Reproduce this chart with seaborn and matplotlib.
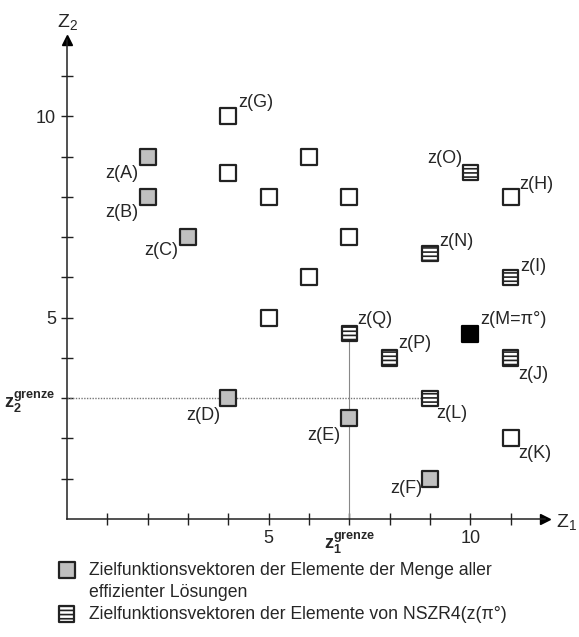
import matplotlib
matplotlib.use("Agg")
import matplotlib.pyplot as plt
import seaborn as sns
import pandas as pd
from matplotlib.lines import Line2D

# efficient solutions (grey)
eff_names = ["A", "B", "C", "D", "E", "F"]
eff_z1 = [2, 2, 3, 4, 7, 9]
eff_z2 = [9, 8, 7, 3, 2.5, 1]

# other vectors (white)
other_names = ["G", "", "", "", "", "", "", "", "H", "K"]
other_z1 = [4, 4, 5, 6, 7, 7, 6, 5, 11, 11]
other_z2 = [10, 8.6, 8, 9, 8, 7, 6, 5, 8, 2]

# NSZR4 elements (hatched)
nszr_names = ["O", "N", "I", "Q", "P", "J", "L"]
nszr_z1 = [10, 9, 11, 7, 8, 11, 9]
nszr_z2 = [8.6, 6.6, 6, 4.6, 4, 4, 3]

# reference point
ref_names = ["M=π°"]
ref_z1 = [10]
ref_z2 = [4.6]

z1_grenze = 7
z2_grenze = 3

legend_labels = [
    "Zielfunktionsvektoren der Elemente der Menge aller",
    "effizienter Lösungen",
    "Zielfunktionsvektoren der Elemente von NSZR4(z(π°)",
]

# label offsets in pixels (dx, dy, ha)
label_pos = {
    "A": (-9, -17, "right"), "B": (-9, -16, "right"), "C": (-10, -13, "right"),
    "D": (-8, -17, "right"), "E": (-9, -17, "right"), "F": (-8, -10, "right"),
    "G": (10, 14, "left"), "H": (9, 12, "left"), "K": (8, -15, "left"),
    "O": (-8, 14, "right"), "N": (9, 12, "left"), "I": (10, 11, "left"),
    "Q": (8, 14, "left"), "P": (9, 14, "left"), "J": (8, -17, "left"),
    "L": (6, -15, "left"), "M=π°": (10, 14, "left"),
}

sns.set_style("white")
plt.rcParams["font.family"] = ["Liberation Sans", "DejaVu Sans"]
plt.rcParams["mathtext.fontset"] = "custom"
plt.rcParams["mathtext.rm"] = "Liberation Sans"
plt.rcParams["mathtext.it"] = "Liberation Sans"
plt.rcParams["mathtext.bf"] = "Liberation Sans:bold"
plt.rcParams["hatch.linewidth"] = 1.2

W, H = 579, 637
fig = plt.figure(figsize=(W / 100, H / 100), dpi=100)
ax = fig.add_axes([67 / W, 1 - 519 / H, (545 - 67) / W, (519 - 40) / H])

df_eff = pd.DataFrame({"z1": eff_z1, "z2": eff_z2, "name": eff_names})
df_other = pd.DataFrame({"z1": other_z1, "z2": other_z2, "name": other_names})
df_nszr = pd.DataFrame({"z1": nszr_z1, "z2": nszr_z2, "name": nszr_names})
df_ref = pd.DataFrame({"z1": ref_z1, "z2": ref_z2, "name": ref_names})

# grenze lines
ax.plot([0, 8.8], [z2_grenze, z2_grenze], color="#777777", lw=1, ls=(0, (1, 1)), zorder=1)
ax.plot([z1_grenze, z1_grenze], [0, 4.6], color="#888888", lw=0.8, zorder=1)

ms = 120
sns.scatterplot(data=df_eff, x="z1", y="z2", marker="s", s=ms, color="#c0c0c0",
                edgecolor="#222222", linewidth=1.6, ax=ax, zorder=3)
sns.scatterplot(data=df_other, x="z1", y="z2", marker="s", s=ms, color="white",
                edgecolor="#222222", linewidth=1.6, ax=ax, zorder=3)
sns.scatterplot(data=df_nszr, x="z1", y="z2", marker="s", s=ms, color="white",
                edgecolor="#222222", linewidth=1.6, hatch="----", ax=ax, zorder=3)
sns.scatterplot(data=df_ref, x="z1", y="z2", marker="s", s=ms, color="black",
                edgecolor="black", linewidth=1.6, ax=ax, zorder=3)

for d in [df_eff, df_other, df_nszr, df_ref]:
    for _, r in d.iterrows():
        if not r["name"]:
            continue
        dx, dy, ha = label_pos[r["name"]]
        ax.annotate(f"z({r['name']})", (r["z1"], r["z2"]), xytext=(dx, dy),
                    textcoords="offset pixels", ha=ha, va="center", fontsize=13)

ax.set_xlim(0, 11.85)
ax.set_ylim(0, 11.9)
for s in ["top", "right"]:
    ax.spines[s].set_visible(False)
for s in ["left", "bottom"]:
    ax.spines[s].set_linewidth(1.1)
    ax.spines[s].set_color("#222222")

ticks = list(range(1, 12))
ax.set_xticks(ticks)
ax.set_yticks(ticks)
xlabels = ["5" if t == 5 else "10" if t == 10 else "" for t in ticks]
xlabels[z1_grenze - 1] = r"$\mathbf{z}_{\mathbf{1}}^{\mathbf{grenze}}$"
ylabels = ["5" if t == 5 else "10" if t == 10 else "" for t in ticks]
ylabels[z2_grenze - 1] = r"$\mathbf{z}_{\mathbf{2}}^{\mathbf{grenze}}$"
ax.set_xticklabels(xlabels)
ax.set_yticklabels(ylabels)
ax.tick_params(direction="inout", length=8, width=1, color="#222222",
               labelsize=13, bottom=True, left=True, pad=4)
ax.set_xlabel("")
ax.set_ylabel("")

# arrow heads
ax.plot(1, 0, marker=">", color="black", ms=7, transform=ax.transAxes, clip_on=False)
ax.plot(0, 1, marker="^", color="black", ms=7, transform=ax.transAxes, clip_on=False)
fig.text(556 / W, 1 - 522 / H, r"Z$_1$", fontsize=14, va="center", ha="left")
fig.text(57 / W, 1 - 22 / H, r"Z$_2$", fontsize=14, va="center", ha="left")

handles = [ax.collections[0], Line2D([], [], ls="none"), ax.collections[2]]
fig.legend(handles, legend_labels, loc="upper left",
           bbox_to_anchor=(58 / W, 1 - 562 / H), frameon=False, fontsize=12.7,
           handletextpad=0.75, labelspacing=0.27, borderpad=0, borderaxespad=0,
           handlelength=1.0)

fig.savefig("out.png", dpi=100)
